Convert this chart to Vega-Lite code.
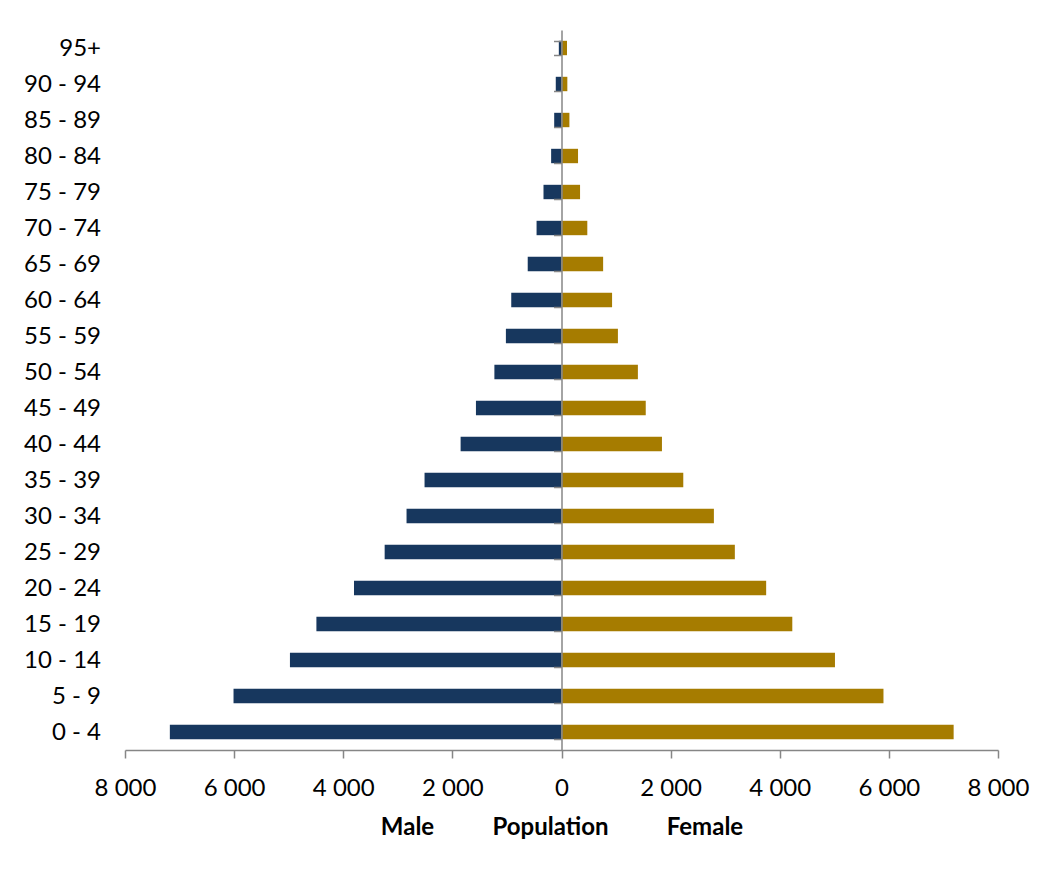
{
  "$schema": "https://vega.github.io/schema/vega-lite/v6.json",
  "width": 873,
  "height": 720,
  "autosize": {"type": "none"},
  "padding": {"left": 125, "top": 30, "right": 41, "bottom": 125},
  "background": "white",
  "config": {"view": {"stroke": null}, "font": "Lato"},
  "data": {
    "values": [
      {"age": "0 - 4", "sex": "Male", "population": -7178},
      {"age": "5 - 9", "sex": "Male", "population": -6011},
      {"age": "10 - 14", "sex": "Male", "population": -4977},
      {"age": "15 - 19", "sex": "Male", "population": -4492},
      {"age": "20 - 24", "sex": "Male", "population": -3803},
      {"age": "25 - 29", "sex": "Male", "population": -3241},
      {"age": "30 - 34", "sex": "Male", "population": -2840},
      {"age": "35 - 39", "sex": "Male", "population": -2510},
      {"age": "40 - 44", "sex": "Male", "population": -1849},
      {"age": "45 - 49", "sex": "Male", "population": -1568},
      {"age": "50 - 54", "sex": "Male", "population": -1230},
      {"age": "55 - 59", "sex": "Male", "population": -1019},
      {"age": "60 - 64", "sex": "Male", "population": -921},
      {"age": "65 - 69", "sex": "Male", "population": -619},
      {"age": "70 - 74", "sex": "Male", "population": -457},
      {"age": "75 - 79", "sex": "Male", "population": -330},
      {"age": "80 - 84", "sex": "Male", "population": -190},
      {"age": "85 - 89", "sex": "Male", "population": -134},
      {"age": "90 - 94", "sex": "Male", "population": -105},
      {"age": "95+", "sex": "Male", "population": -49},
      {"age": "0 - 4", "sex": "Female", "population": 7187},
      {"age": "5 - 9", "sex": "Female", "population": 5901},
      {"age": "10 - 14", "sex": "Female", "population": 5012},
      {"age": "15 - 19", "sex": "Female", "population": 4230},
      {"age": "20 - 24", "sex": "Female", "population": 3751},
      {"age": "25 - 29", "sex": "Female", "population": 3177},
      {"age": "30 - 34", "sex": "Female", "population": 2793},
      {"age": "35 - 39", "sex": "Female", "population": 2232},
      {"age": "40 - 44", "sex": "Female", "population": 1841},
      {"age": "45 - 49", "sex": "Female", "population": 1544},
      {"age": "50 - 54", "sex": "Female", "population": 1400},
      {"age": "55 - 59", "sex": "Female", "population": 1034},
      {"age": "60 - 64", "sex": "Female", "population": 927},
      {"age": "65 - 69", "sex": "Female", "population": 763},
      {"age": "70 - 74", "sex": "Female", "population": 473},
      {"age": "75 - 79", "sex": "Female", "population": 340},
      {"age": "80 - 84", "sex": "Female", "population": 303},
      {"age": "85 - 89", "sex": "Female", "population": 145},
      {"age": "90 - 94", "sex": "Female", "population": 107},
      {"age": "95+", "sex": "Female", "population": 101}
    ]
  },
  "mark": {"type": "bar"},
  "encoding": {
    "y": {
      "field": "age",
      "type": "nominal",
      "sort": ["95+", "90 - 94", "85 - 89", "80 - 84", "75 - 79", "70 - 74", "65 - 69", "60 - 64", "55 - 59", "50 - 54", "45 - 49", "40 - 44", "35 - 39", "30 - 34", "25 - 29", "20 - 24", "15 - 19", "10 - 14", "5 - 9", "0 - 4"],
      "scale": {"paddingInner": 0.6, "paddingOuter": 0.3},
      "axis": {
        "title": null,
        "orient": "left",
        "offset": -436.5,
        "zindex": 1,
        "domain": true,
        "domainColor": "#868686",
        "domainWidth": 1.5,
        "ticks": true,
        "tickBand": "extent",
        "tickColor": "#868686",
        "tickWidth": 1.5,
        "tickSize": 8,
        "labelPadding": 453,
        "labelFontSize": 24,
        "labelColor": "#000000",
        "labelFont": "Lato",
        "grid": false
      }
    },
    "x": {
      "field": "population",
      "type": "quantitative",
      "scale": {"domain": [-8000, 8000], "nice": false},
      "axis": {
        "values": [-8000, -6000, -4000, -2000, 0, 2000, 4000, 6000, 8000],
        "labelExpr": "datum.value == 0 ? '0' : floor(abs(datum.value) / 1000) + ' 000'",
        "labelFlush": false,
        "labelOverlap": false,
        "title": "Male\u00a0\u00a0\u00a0\u00a0\u00a0\u00a0\u00a0\u00a0\u00a0\u00a0Population\u00a0\u00a0\u00a0\u00a0\u00a0\u00a0\u00a0\u00a0\u00a0\u00a0Female",
        "titleFont": "Lato",
        "titleFontSize": 24,
        "titleFontWeight": "bold",
        "titleColor": "#000000",
        "titlePadding": 15,
        "grid": false,
        "domainColor": "#868686",
        "domainWidth": 1.5,
        "tickColor": "#868686",
        "tickWidth": 1.5,
        "tickSize": 8,
        "labelPadding": 18,
        "labelFontSize": 24,
        "labelColor": "#000000",
        "labelFont": "Lato"
      }
    },
    "color": {
      "field": "sex",
      "type": "nominal",
      "scale": {"domain": ["Male", "Female"], "range": ["#17375E", "#A67C00"]},
      "legend": null
    }
  }
}
